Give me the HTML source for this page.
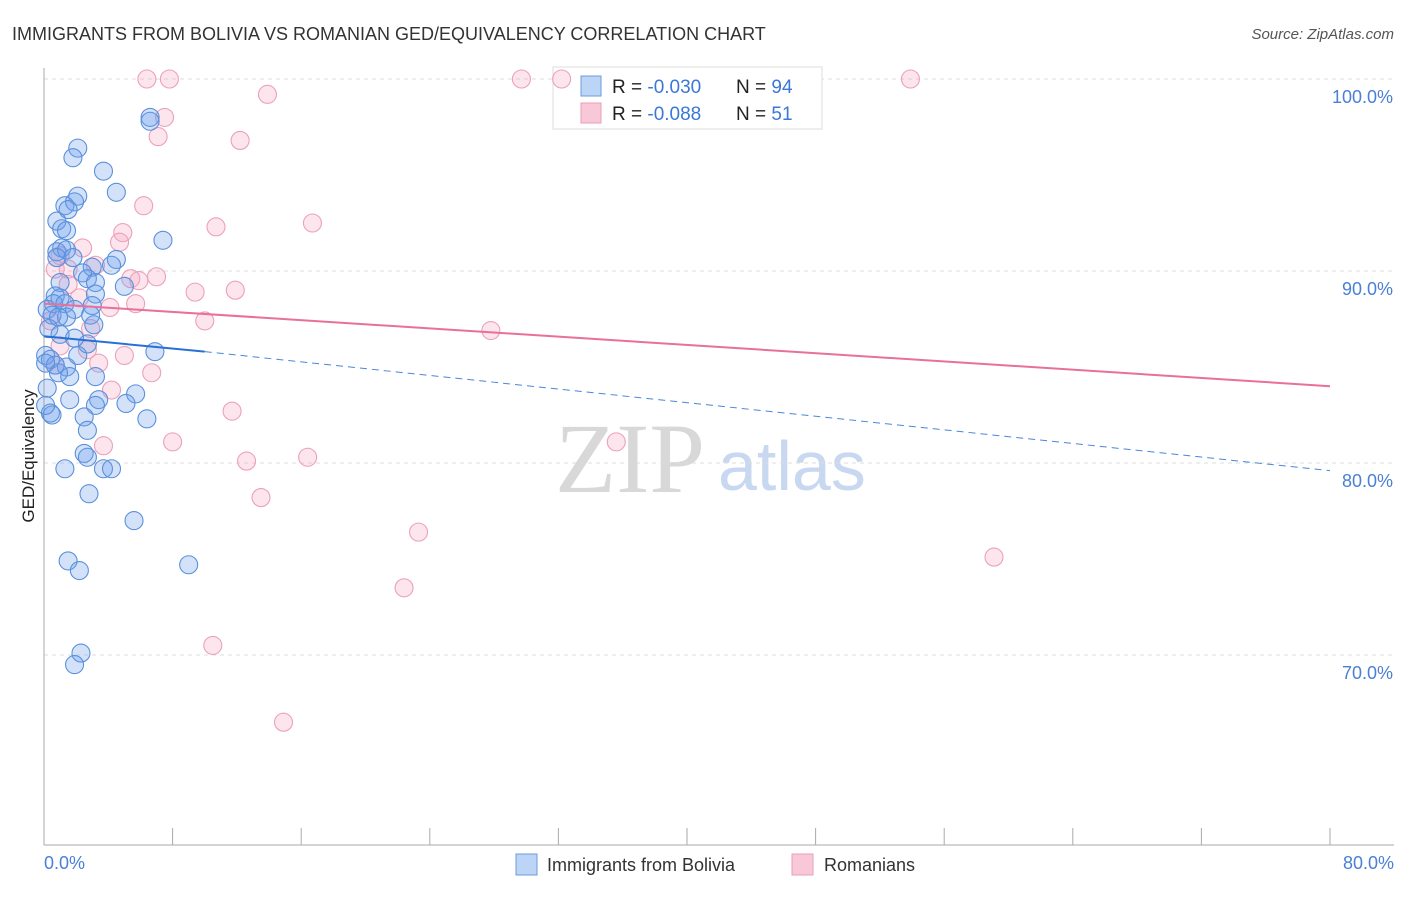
<!DOCTYPE html>
<html><head><meta charset="utf-8"><style>
body{margin:0;background:#fff;font-family:"Liberation Sans",sans-serif;}
</style></head><body>
<svg width="1406" height="892" xmlns="http://www.w3.org/2000/svg" id="chart">
<text x="12" y="40" font-size="18" fill="#333">IMMIGRANTS FROM BOLIVIA VS ROMANIAN GED/EQUIVALENCY CORRELATION CHART</text>
<text x="1394" y="39" font-size="15" fill="#555" font-style="italic" text-anchor="end">Source: ZipAtlas.com</text>
<text x="555" y="492" font-size="100" fill="#d8d8d8" font-family="Liberation Serif,serif">ZIP</text>
<text x="718" y="490" font-size="70" fill="#c8d8f0">atlas</text>
<g id="grid"></g>
<g id="axes"></g>
<g>
<rect x="553" y="67" width="269" height="62" fill="#fff" stroke="#ddd"/>
<rect x="581" y="76" width="20" height="20" fill="#bcd4f5" stroke="#6a9be0"/>
<rect x="581" y="103" width="20" height="20" fill="#f9c8d8" stroke="#eb9cb8"/>
<text x="612" y="93" font-size="19" fill="#222">R = <tspan fill="#3a78d6">-0.030</tspan><tspan x="736">N = </tspan><tspan fill="#3a78d6">94</tspan></text>
<text x="612" y="120" font-size="19" fill="#222">R = <tspan fill="#3a78d6">-0.088</tspan><tspan x="736">N = </tspan><tspan fill="#3a78d6"> 51</tspan></text>
</g>
<g id="pts"></g>
<g id="trend"></g>
<text transform="translate(34,456) rotate(-90)" font-size="17" fill="#222" text-anchor="middle">GED/Equivalency</text>
<text x="44" y="869" font-size="18" fill="#4a7fd6">0.0%</text>
<text x="1394" y="869" font-size="18" fill="#4a7fd6" text-anchor="end">80.0%</text>
<g>
<rect x="516" y="854" width="21" height="21" fill="#bcd4f5" stroke="#6a9be0"/>
<text x="547" y="871" font-size="18" fill="#333">Immigrants from Bolivia</text>
<rect x="792" y="854" width="21" height="21" fill="#f9c8d8" stroke="#eb9cb8"/>
<text x="824" y="871" font-size="18" fill="#333">Romanians</text>
</g>
</svg>
<script>
const yTicks=[100,90,80,70];
const xTicks=[0,8,16,24,32,40,48,56,64,72,80];
const blueX=[6.6,6.6,2.1,1.8,3.7,4.5,2.1,1.3,1.9,1.5,0.8,1.1,1.4,7.4,1.1,0.8,1.4,0.8,1.8,4.5,4.2,3.0,2.4,2.7,3.2,5.0,1.0,3.2,0.7,1.0,0.6,1.3,3.0,0.2,1.9,0.5,1.4,0.9,2.9,3.1,0.3,1.0,1.9,2.7,6.9,2.1,0.1,0.4,1.4,0.7,1.6,3.2,0.9,0.2,5.7,1.6,3.4,5.1,3.2,0.4,0.5,2.5,6.4,2.7,2.5,2.7,3.7,4.2,1.3,2.8,5.6,1.5,2.2,9.0,2.3,1.9,0.1,0.1];
const blueY=[98.0,97.8,96.4,95.9,95.2,94.1,93.9,93.4,93.6,93.2,92.6,92.2,92.1,91.6,91.2,91.0,91.1,90.7,90.7,90.6,90.3,90.2,89.9,89.6,89.4,89.2,89.4,88.8,88.7,88.6,88.3,88.3,88.2,88.0,88.0,87.7,87.6,87.6,87.7,87.2,87.0,86.7,86.5,86.2,85.8,85.6,85.6,85.4,85.0,85.1,84.5,84.5,84.7,83.9,83.6,83.3,83.3,83.1,83.0,82.6,82.5,82.4,82.3,81.7,80.5,80.3,79.7,79.7,79.7,78.4,77.0,74.9,74.4,74.7,70.1,69.5,83.0,85.2];
const pinkX=[6.4,7.8,29.7,32.2,53.9,13.9,7.5,7.1,12.2,6.2,16.7,10.7,4.9,4.7,2.4,1.0,3.2,0.7,1.5,7.0,5.4,5.9,1.5,11.9,9.4,2.2,5.7,4.1,10.0,2.9,27.8,1.0,2.7,5.0,3.4,6.7,4.2,11.7,8.0,3.7,35.6,12.6,16.4,13.5,23.3,59.1,22.4,10.5,14.9,0.4,0.7];
const pinkY=[100,100,100,100,100,99.2,98.0,97.0,96.8,93.4,92.5,92.3,92.0,91.5,91.2,90.8,90.3,90.1,90.1,89.7,89.6,89.5,89.3,89.0,88.9,88.6,88.3,88.1,87.4,87.0,86.9,86.1,85.9,85.6,85.2,84.7,83.8,82.7,81.1,80.9,81.1,80.1,80.3,78.2,76.4,75.1,73.5,70.5,66.5,87.4,85.1];
const blueTrend=[0,86.6,10,85.8,80,79.6];
const pinkTrend=[0,88.3,80,84.0];
const NS="http://www.w3.org/2000/svg";
const sx=v=>44+v*(1286/80);
const sy=v=>79+(100-v)*19.2;
function mk(tag,attrs,parent){const e=document.createElementNS(NS,tag);for(const k in attrs)e.setAttribute(k,attrs[k]);document.getElementById(parent).appendChild(e);return e;}
yTicks.forEach(t=>{
 const l=mk('line',{x1:44,x2:1394,y1:sy(t),y2:sy(t),stroke:'#ddd','stroke-dasharray':'4,4'},'grid');
 
 
 const tx=mk('text',{x:1393,y:sy(t)+24,'font-size':18,fill:'#4a7fd6','text-anchor':'end'},'grid');
 tx.textContent=t.toFixed(1)+'%';
 
 
});
const ax=mk('line',{x1:44,x2:44,y1:68,y2:845,stroke:'#aaa'},'axes');


const bx=mk('line',{x1:44,x2:1394,y1:845,y2:845,stroke:'#aaa'},'axes');


xTicks.forEach(t=>{
 const l=mk('line',{x1:sx(t),x2:sx(t),y1:828,y2:845,stroke:'#aaa'},'axes');
 
 
});
function pts(X,Y,fill,stroke,name){
 X.forEach((x,i)=>{
  const c=mk('circle',{cx:sx(x),cy:sy(Y[i]),r:9,fill:fill,stroke:stroke,'stroke-width':1.1},'pts');
  
  
 });
}
pts(pinkX,pinkY,'rgba(245,160,190,0.28)','#eda0ba','point-romanians');
pts(blueX,blueY,'rgba(110,160,235,0.3)','#5a90dc','point-bolivia');
let l1=mk('line',{x1:sx(blueTrend[0]),y1:sy(blueTrend[1]),x2:sx(blueTrend[2]),y2:sy(blueTrend[3]),stroke:'#2a6fd6','stroke-width':2},'trend');


let l2=mk('line',{x1:sx(blueTrend[2]),y1:sy(blueTrend[3]),x2:sx(blueTrend[4]),y2:sy(blueTrend[5]),stroke:'#4a86d8','stroke-width':1,'stroke-dasharray':'7,5'},'trend');


let l3=mk('line',{x1:sx(pinkTrend[0]),y1:sy(pinkTrend[1]),x2:sx(pinkTrend[2]),y2:sy(pinkTrend[3]),stroke:'#e8709a','stroke-width':2},'trend');


</script>
</body></html>
